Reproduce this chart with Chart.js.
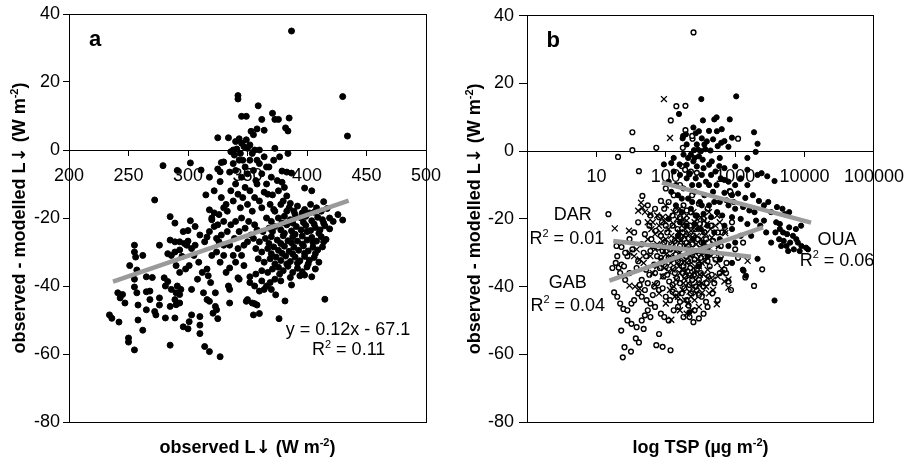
<!DOCTYPE html>
<html><head><meta charset="utf-8">
<script src="https://cdn.jsdelivr.net/npm/chart.js@4.4.0/dist/chart.umd.min.js"></script>
<style>
html,body{margin:0;padding:0;background:#fff;}
#wrap{position:relative;width:914px;height:464px;overflow:hidden;}
canvas{position:absolute;top:0;}
#ca{left:0;} #cb{left:457px;}
</style></head><body>
<div id="wrap"><canvas id="ca" width="457" height="464"></canvas><canvas id="cb" width="457" height="464"></canvas></div>
<script>
// ---------- DATA ----------
// Panel a: [observed L↓, observed - modelled L↓]
const panelA = [
[387,35],[430,15.7],[434,4.1],[342,16],[342,15],[359,13],[371,10.8],[345,9.9],[349,9.9],[362,9],[373,9],[376,9],[385,9.4],[325,3.6],[334,3.6],[343,3.3],[353,5.5],[355,4.5],[358,6.2],[364,5.8],[382,6.5],[384,5.6],[345,2],[347,1],[350,0.5],[352,1.5],[356,0],[360,0],[373,0.5],[338,0],[336,-0.5],[341,0.3],[344,-1],[384,-1],[349,3],[340,2.5],
[279,-4.6],[302,-3.8],[291,-6],[311,-5.9],[328,-3.7],[330,-3.5],[327,-6.4],[335,-6.5],[338,-4],[340,-6],[343,-3],[345,-8],[348,-5],[350,-7],[352,-3],[355,-6],[357,-9],[360,-4],[362,-7],[364,-2],[366,-10],[368,-5],[370,-8],[372,-3],[375,-9],[379,-9.5],[379,-6.2],[383,-6.5],[387,-6.8],[377,-2],[272,-14.7],[315,-13.2],[322,-12],[327,-9.3],[328,-14],[332,-16],[318,-17.6],[322,-18.5],[326,-19],[320,-20],[330,-17],[333,-18],[336,-12],[338,-15],[340,-10],[342,-13],[344,-17],[346,-14],[348,-11],[350,-16],[352,-12],[354,-18],[356,-14],[358,-10],[360,-15],[362,-17],[364,-12.4],[367,-13],[371,-13.2],[369,-16],[373,-18],[398,-11.2],[404,-12],[414,-15.2],[426,-19],[430,-20.6],[285,-19.6],[289,-21.5],[302,-20.8],[306,-22.5],[300,-23.7],[325,-5.6],[318,-8],[381,-11],[383,-13.5],[386,-15.7],[380,-15],[376,-12],[339,-1.5],[346,-3],[354,-1],[358,-3],[366,-5],
[255,-28],[255,-30],[256,-31.5],[262,-31],[251,-34],[257,-35.3],[283,-30.5],[286,-31],[289,-30],[295,-31.3],[290,-34],[293,-36],[298,-35],[301,-34],[305,-31],[309,-33],[312,-36],[316,-35],[320,-31],[317,-37],[319,-39],[285,-26.5],[289,-27],[293,-27],[297,-27.5],[300,-26.8],[306,-28],[314,-27],[318,-24],[322,-22.5],[320,-20.5],[325,-22],[328,-25],[330,-21],[333,-24],[335,-28],[336,-22],[339,-26],[335,-34.7],[342,-37.6],[352,-37.3],[255,-38],[255,-40.3],[265,-37.3],[270,-37.5],[280,-37.6],[283,-38.7],[281,-40],[286,-41],[290,-42],[291,-40],[293,-42.5],[294,-41],[303,-41],[308,-38],[313,-42],[323,-42],[334,-40],[335,-41],[343,-38],[324,-30],[327,-33],[330,-31],[332,-36],[338,-31],[340,-33],[342,-29],[345,-31],[347,-34],[330,-28],[326,-27],[310,-25],[303,-29],[296,-24],[276,-28],[293,-29.4],[299,-28],[316,-25.6],[324,-26],
[241,-42],[243,-43.5],[245,-42.5],[257,-42],[258,-45.6],[265,-41.7],[268,-41.5],[276,-43.5],[276,-45.6],[272,-47.5],[273,-48.5],[289,-44],[290,-45.5],[293,-45],[281,-49.4],[289,-49.4],[296,-52],[300,-52.6],[303,-48.5],[310,-49],[310,-51.5],[316,-44],[318,-44.5],[323,-46],[321,-48],[325,-49.6],[310,-54],[314,-57.8],[318,-59.3],[327,-60.8],[234,-48.5],[236,-49.5],[242,-50.6],[258,-50],[262,-53],[250,-55.3],[250,-56.5],[255,-58.8],[285,-57.4],[324,-47],[335,-45],[350,-44],[354,-45],[355,-48.5],[360,-48.1],[349,-44.5],[356,-45.2],[358,-45.6],[376.5,-49.6],[381.5,-44.4],[415,-43.9],[373.7,-42.6],[301,-50.5],[285,-46],[265,-47],[268,-44],[247,-45],
[385,-17],[392,-16.5],[398,-17.5],[403,-16],[408,-17],[412,-18],[417,-17.2],[402,-18.5],[378,-16],[372,-17.5],
[376,-20],[381,-19.5],[386,-20.5],[390,-19],[395,-20],[399,-19.5],[404,-20.8],[409,-19.8],[413,-20.5],[419,-20],[422,-21],[370,-21],[366,-20],
[368,-23],[373,-22.5],[378,-23.5],[383,-22],[387,-23.8],[391,-22.5],[395,-23.5],[399,-22.2],[403,-23.7],[407,-22.8],[411,-23.5],[415,-22.3],[419,-23.2],[363,-24],[358,-23.5],
[365,-26],[370,-25.5],[375,-26.5],[380,-25.2],[384,-26.7],[388,-25.5],[392,-26.8],[396,-25.3],[400,-26.5],[404,-25.7],[408,-26.8],[412,-25.5],[416,-26.3],[360,-27],[355,-26],
[367,-29],[372,-28.5],[376,-29.5],[381,-28.3],[385,-29.8],[389,-28.6],[393,-29.5],[397,-28.2],[401,-29.7],[405,-28.6],[409,-29.4],[413,-28.5],[362,-30],[357,-29],
[369,-32],[374,-31.5],[378,-32.5],[382,-31.2],[386,-32.8],[390,-31.5],[394,-32.6],[398,-31.3],[402,-32.4],[406,-31.6],[410,-33],[364,-33],[359,-32],
[371,-35],[376,-34.5],[380,-35.5],[384,-34.2],[388,-36],[392,-34.8],[396,-35.8],[400,-34.4],[404,-37.3],[367,-36],[362,-35.5],[357,-36.5],[407,-35],
[362,-38.5],[366,-40],[369,-39],[364,-41],[373,-38],[378,-38.5],[387,-39.7],[352,-39],[356,-40],[360,-41.5],[370,-41],
[345,-20],[348,-23],[351,-21],[353,-25],[350,-27],[347,-28],[356,-22],[343,-24],[340,-21],
[383,-18],[389,-18],[396,-18.5],[406,-18.3],[379,-21.5],[388,-21.5],[397,-21.3],[406,-21.8],[414,-21.5],[371,-24],[381,-24.5],[390,-24.8],[400,-24],[410,-24.5],[368,-27.5],[378,-27.5],[387,-27.3],[396,-27.7],[405,-27.2],[414,-27],[370,-30.5],[379,-30.4],[388,-30.6],[398,-30.4],[407,-30.5],[373,-33.5],[383,-33.5],[392,-33.3],[401,-33.5],[377,-36.5],[386,-37.5],[394,-37],[398,-36.8]
];
const trendA = [[237,-38.7],[435,-14.9]];

// Panel b: [TSP (µg m-2), observed - modelled L↓]
const OUA = [
[325,15.4],[1035,16.2],[155,11],[343,9.1],[500,9.4],[540,10],[835,9.4],[175,3.8],[195,5],[270,5.3],[300,5.9],[545,5.9],[640,6.5],[1870,5.6],[2100,2.2],[1975,-0.2],[630,2.5],[800,1.3],[330,3.8],[390,2.9],[178,4.5],[255,0.3],[290,0.5],[320,0],[370,0.6],[440,0.2],[230,-1],[260,-2],[300,-1.5],[340,-2.5],
[94,-3.9],[120,-3.5],[158,-3.9],[200,-4],[250,-3],[280,-4.5],[350,-5],[420,-4],[590,-4.4],[700,-5],[1000,-4.5],[1500,-5.5],[2100,-7],[2900,-7.4],[3690,-8.8],[130,-6],[160,-7],[220,-6.5],[270,-8],[330,-7],[380,-9],[450,-7],[520,-6],[620,-8],[800,-9],[1200,-8],[110,-9],[140,-10],[240,-10],[2400,-6.5],
[700,-12.3],[900,-13],[1100,-12.5],[1400,-13.8],[2200,-14.7],[2600,-16],[3000,-15],[4000,-16.5],[4800,-17],[5200,-18.6],[6000,-18],[600,-15],[800,-16],[1000,-17],[1300,-16.5],[1600,-17.5],[1900,-18],[120,-12],[150,-13],[180,-11],[210,-14],[260,-12],[310,-15],[360,-13],[420,-16],[480,-12],[550,-18],[140,-16],[170,-18],[230,-17],[280,-19],[350,-18.5],[450,-19.5],[650,-19],[900,-19.5],[1200,-20],[2000,-20.5],
[110,-20],[160,-21],[200,-22],[260,-21.5],[320,-23],[400,-22],[500,-24],[700,-22],[900,-23],[1500,-21.5],[2600,-20.5],[3900,-21],[4300,-26],[5000,-26.5],[5500,-28],[6200,-27],[7000,-29],[8000,-27],[9000,-28],[10500,-28.5],[11200,-29],[4600,-28],[6800,-25],[8500,-29.5],[3800,-24],[4400,-23],[5600,-24.5],[150,-25],[250,-26],[350,-27],[600,-26],[800,-28],[1000,-27],[1200,-25],[4400,-21.5],[6000,-22.5],[7500,-23],[8900,-22],
[2100,-31.8],[1290,-35],[1430,-36.8],[1320,-35.3],[3690,-44.1],[218,-47.6],[600,-32],[400,-31],[900,-33],[300,-34],
[200,2],[210,-2],[280,2],[360,2],[480,3.5],[560,1.5],[700,3],[250,7],[420,6],[900,4],[1500,-2],[600,-2],[460,-3],[180,-1],[130,-2],[200,-8],[300,-10],[420,-10],[540,-10],[700,-8.5],[1000,-10],[1500,-10],[170,-14],[240,-15],[330,-16],[500,-15],[750,-14.5],[950,-15],[1800,-13],[3300,-18],[2300,-22],[2800,-24],[1700,-25],[3300,-27],[5800,-29.5],[7600,-26],[4900,-24]
];
const DAR = [
[94,15.4],[115,3.9],[44,-15.2],[46,-16.7],[40,-17.6],[50,-18],[60,-18.5],[75,-19],[91,-19.4],[18.4,-22.8],[29.5,-23.5],[713,-23.5],[720,-24.2],[120,-49.8],[543,-45.2],[270,-42],[335,-41.8],[175,-41],[190,-44],[210,-45],[240,-47],[230,-43],[1510,-32.4],[800,-37.9],[800,-40.3],[640,-34.7],[330,-33],[400,-35],[475,-38],[380,-40],[420,-42],[30,-30],[35,-31],[42,-32],[48,-33],[38,-29],[30,-39.7],[36,-40],[42,-40.6],
[65,-21],[80,-22],[95,-20.5],[110,-23],[130,-21.5],[150,-24],[170,-22],[200,-20.5],[230,-23.5],[260,-21],[300,-22.5],[340,-24],[390,-21.5],[440,-23],[520,-22],[70,-24.5],[120,-25],[180,-25],[280,-25],[600,-21],
[55,-26],[75,-27.5],[90,-26.5],[105,-28.5],[125,-27],[145,-29],[165,-26.5],[190,-28],[215,-27],[245,-29.5],[275,-27.5],[310,-28.5],[360,-27],[420,-29],[500,-27.5],[580,-28],
[60,-31],[85,-32],[100,-30.5],[118,-33],[135,-31.5],[155,-34],[175,-31],[200,-33],[225,-31],[250,-34.5],[285,-32],[320,-30.5],[370,-32.5],[450,-31],[550,-33],
[65,-36],[90,-37],[110,-35.5],[140,-38],[160,-36],[185,-37.5],[210,-39],[240,-36.5],[270,-38],[300,-39.5],[350,-36.5],[560,-37],[700,-38.5],[130,-40],
[80,-42],[100,-45],[150,-43],[260,-44],[300,-46],[200,-48],[160,-47],
[100,-16],[130,-18],[160,-17],[200,-19],[250,-18],[320,-19.5],[420,-18],[550,-19],
[62,-23],[85,-24],[100,-26],[140,-26],[160,-24],[190,-23],[210,-25],[240,-25.5],[270,-23],[320,-26],[380,-24.5],[460,-25.5],
[70,-29],[95,-29.5],[115,-31],[130,-29],[160,-30],[185,-32.5],[210,-30],[235,-33],[265,-30],[300,-34],[340,-29],[400,-30],[500,-30],
[75,-34],[95,-34.5],[125,-35],[145,-33],[170,-35],[195,-35.5],[220,-37],[260,-36],[310,-36.5],[400,-37.5],[650,-36],
[70,-39.5],[115,-41],[135,-43],[180,-39],[220,-41.5],[250,-40],[330,-39],[480,-41],
[55,-21],[110,-19.5],[145,-20],[180,-20],[280,-20],[360,-20.5]
];
const GAB = [
[251,35.1],[142,13.3],[118,9.1],[33,5.6],[33,0.3],[73,1],[20.5,-1.7],[192,6.2],[243,3.7],[1100,3.7],[176,1],[192,13.4],[240,4.5],[41,-5.9],[46,-13.2],[85,-14.7],[14.9,-18.6],[170,-4.4],[190,-5.5],[218,-6.8],[835,-11.8],[870,-12.6],[2450,-34.9],[1870,-39.8],[1400,-37.3],[740,-36],[870,-41],[800,-38.5],[230,-6],[280,-6.4],[850,-12],
[24,-60.9],[25.4,-57.9],[31.5,-59.2],[73,-57.3],[90,-57.8],[117,-58.8],[22.8,-53],[37,-55.3],[41,-56.5],[80,-54],[18,-41.7],[20,-43],[22,-45],[24.5,-46.6],[19,-33],[21,-34.4],[23,-33.5],[25,-34],[19.5,-28],[23,-28.3],
[28,-47],[32,-45],[28,-50],[32,-51],[38,-52],[45,-50],[50,-48.5],[55,-47],[60,-49],[48,-52.5],[35,-44],[40,-42],[45,-43],[53,-44],[60,-45],[70,-46],[85,-48],[95,-49],[110,-50],[130,-47],[150,-46],[180,-49],[213,-45.6],[260,-47],[300,-49.4],[350,-48],[400,-46],[220,-49],[250,-50.5],
[55,-16],[70,-17],[110,-15],[140,-17.5],[180,-16],[230,-18],[300,-15.5],[400,-17],
[40,-21],[58,-22],[72,-23.5],[88,-21],[105,-24],[125,-22],[148,-23],[170,-21],[195,-24.5],[225,-22],[265,-23],[310,-21.5],[360,-24],[450,-22],[650,-24],[900,-21],
[30,-26],[45,-27.5],[62,-26],[78,-28.5],[95,-27],[115,-29],[135,-26.5],[160,-28],[185,-26],[210,-29],[240,-27.5],[280,-29.5],[330,-27],[390,-28.5],[480,-26.5],[620,-28],[1000,-29],[1300,-27],
[28,-31],[40,-32.5],[52,-31],[68,-33.5],[85,-31.5],[100,-34],[120,-32],[140,-30.5],[165,-33],[195,-31],[225,-34.5],[260,-32],[300,-33.5],[360,-31],[430,-34],[520,-32],[750,-33],[1100,-31.5],
[30,-36],[45,-38],[58,-36.5],[75,-39],[92,-37],[112,-38.5],[135,-36],[160,-39],[190,-37],[220,-39.5],[255,-36.5],[300,-38],[350,-40],[420,-37],[500,-39],[600,-36],
[50,-41],[65,-42.5],[80,-41],[100,-43],[125,-41.5],[170,-42],[200,-44],[280,-41],[330,-43],[470,-42],[560,-44],
[35,-24],[50,-24.5],[65,-28],[85,-25],[100,-22],[120,-27.5],[150,-26],[175,-24],[200,-27],[250,-25],[290,-26],[380,-26],[560,-24],
[33,-29],[48,-30],[60,-29.5],[75,-31],[90,-29.5],[110,-31.5],[130,-34.5],[150,-32.5],[180,-34],[210,-32.5],[240,-30.5],[280,-35],[320,-31.5],[400,-32.5],[620,-31],
[38,-34.5],[52,-35],[70,-36],[82,-34.5],[105,-36.5],[125,-39.5],[145,-37.5],[175,-36],[205,-35.5],[240,-38],[270,-40],[320,-36],[390,-39],[460,-36.5],[700,-35],
[42,-39.5],[55,-39],[68,-40],[90,-40.5],[115,-44],[140,-42],[160,-44.5],[185,-40.5],[230,-42],[300,-42.5],[380,-44.5],
[26,-38],[22,-36],[17,-34.5],[20,-31],[26,-30],
[60,-19],[80,-19.5],[95,-17],[125,-19],[160,-19.5],[200,-17.5],[270,-19],[350,-20],[130,-13],[100,-11],[240,-13],[160,-10]
];
const trendOUA = [[88,-9.3],[12400,-21.1]];
const trendDAR = [[17.5,-26.5],[1690,-31.2]];
const trendGAB = [[15.4,-38.2],[2520,-22.5]];
const tspTicks = [1,10,100,1000,10000,100000];

// ---------- DRAWING ----------
const FAM = "'Liberation Sans', Arial, Helvetica, sans-serif";
const ARROWFAM = "'DejaVu Sans', sans-serif";
Chart.defaults.font.family = FAM;
Chart.defaults.color = '#000';
const toXY = arr => arr.map(p => ({x:p[0], y:p[1]}));

function parseRich(s){
  const raw=[]; const re=/\^\{([^}]*)\}/g; let last=0, m;
  while((m=re.exec(s))){ if(m.index>last) raw.push({t:s.slice(last,m.index)}); raw.push({t:m[1],sup:true}); last=re.lastIndex; }
  if(last<s.length) raw.push({t:s.slice(last)});
  const parts=[];
  raw.forEach(p=>{
    if(!p.sup && p.t.indexOf('\u2193')>=0){
      p.t.split(/(\u2193)/).forEach(q=>{ if(q==='') return; parts.push(q==='\u2193'?{t:q,arrow:true}:{t:q}); });
    } else parts.push(p);
  });
  return parts;
}
function fontFor(p,size,bold){
  if(p.arrow) return (bold?'bold ':'')+Math.round(size*1.0)+'px '+ARROWFAM;
  const s=p.sup?Math.round(size*0.62):size; return (bold?'bold ':'')+s+'px '+FAM;
}
function drawRich(ctx, str, x, y, size, bold){
  const parts=parseRich(str); let w=0;
  parts.forEach(p=>{ctx.font=fontFor(p,size,bold); w+=ctx.measureText(p.t).width;});
  let cx=x-w/2; const base=y+size*0.36;
  ctx.textAlign='left'; ctx.textBaseline='alphabetic';
  parts.forEach(p=>{ctx.font=fontFor(p,size,bold); ctx.fillText(p.t,cx,p.sup?base-size*0.42:base); cx+=ctx.measureText(p.t).width;});
}
function annot(cfg){
  return {id:'annot', afterDraw(chart){
    const ctx=chart.ctx, ca=chart.chartArea, xs=chart.scales.x, ys=chart.scales.y;
    ctx.save();
    ctx.fillStyle='#000';
    cfg.labels.forEach(l=>drawRich(ctx,l.text,xs.getPixelForValue(l.x),ys.getPixelForValue(l.y),l.size||18,!!l.bold));
    drawRich(ctx,cfg.xTitle,(ca.left+ca.right)/2,ca.bottom+25,18,true);
    ctx.translate(cfg.yTitleX,(ca.top+ca.bottom)/2); ctx.rotate(-Math.PI/2);
    drawRich(ctx,cfg.yTitle,0,0,18,true);
    ctx.restore();
  }};
}
const yTitle='observed - modelled L\u2193 (W m^{-2})';
function yScale(width,tl,pad){
  return {min:-80,max:40,ticks:{stepSize:20,font:{size:18},color:'#000',padding:pad},
    grid:{drawOnChartArea:false,drawTicks:true,tickLength:tl,color:'#000'},
    border:{display:true,color:'#000',width:1}, afterFit(s){s.width=width;}};
}
// frame edges: axes with a border and nothing else
function frameScale(type,pos,min,max){
  return {type:type,position:pos,min:min,max:max,display:true,
    ticks:{display:false}, grid:{display:false,drawTicks:false,drawOnChartArea:false},
    border:{display:true,color:'#000',width:1}};
}
const common = {responsive:false, animation:false, events:[],
  plugins:{legend:{display:false},tooltip:{enabled:false}}};

new Chart(document.getElementById('ca'), {
  type:'scatter',
  data:{datasets:[
    {data:toXY(trendA),showLine:true,borderColor:'#9a9a9a',borderWidth:4.5,pointRadius:0,borderCapStyle:'butt',xAxisID:'x',yAxisID:'y'},
    {data:toXY(panelA),pointRadius:3,pointBackgroundColor:'#000',pointBorderColor:'#000',pointBorderWidth:1,xAxisID:'x',yAxisID:'y'}
  ]},
  options:Object.assign({}, common, {
    layout:{padding:{left:0,right:31,top:14,bottom:42}},
    scales:{
      x:{type:'linear',position:{y:0},min:200,max:500,
        ticks:{stepSize:50,font:{size:18},color:'#000',padding:10,maxRotation:0,autoSkip:false},
        grid:{drawOnChartArea:false,drawTicks:true,tickLength:5,color:'#000'},
        border:{display:true,color:'#000',width:1}},
      y:yScale(69,6,3),
      xTop:frameScale('linear','top',200,500),
      xBot:frameScale('linear','bottom',200,500),
      yRight:frameScale('linear','right',-80,40)
    }
  }),
  plugins:[annot({yTitleX:19, xTitle:'observed L\u2193 (W m^{-2})', yTitle:yTitle, labels:[
    {text:'a',x:222,y:33,bold:true,size:22},
    {text:'y = 0.12x - 67.1',x:434.5,y:-52.4},
    {text:'R^{2} = 0.11',x:435,y:-58.5}
  ]})]
});

new Chart(document.getElementById('cb'), {
  type:'scatter',
  data:{datasets:[
    {data:toXY(trendOUA),showLine:true,borderColor:'#9a9a9a',borderWidth:4.5,pointRadius:0,borderCapStyle:'butt',xAxisID:'x',yAxisID:'y'},
    {data:toXY(trendDAR),showLine:true,borderColor:'#9a9a9a',borderWidth:4.5,pointRadius:0,borderCapStyle:'butt',xAxisID:'x',yAxisID:'y'},
    {data:toXY(trendGAB),showLine:true,borderColor:'#9a9a9a',borderWidth:4.5,pointRadius:0,borderCapStyle:'butt',xAxisID:'x',yAxisID:'y'},
    {label:'OUA',data:toXY(OUA),pointRadius:2.6,pointBackgroundColor:'#000',pointBorderColor:'#000',pointBorderWidth:1,xAxisID:'x',yAxisID:'y'},
    {label:'DAR',data:toXY(DAR),pointStyle:'crossRot',pointRadius:4.2,pointBorderColor:'#000',pointBorderWidth:1.3,xAxisID:'x',yAxisID:'y'},
    {label:'GAB',data:toXY(GAB),pointRadius:2.4,pointBackgroundColor:'#fff',pointBorderColor:'#000',pointBorderWidth:1.4,xAxisID:'x',yAxisID:'y'}
  ]},
  options:Object.assign({}, common, {
    layout:{padding:{left:0,right:30,top:14,bottom:42}},
    scales:{
      x:{type:'logarithmic',position:{y:0},min:1,max:100000,
        afterBuildTicks(s){ s.ticks = tspTicks.map(v=>({value:v})); },
        ticks:{font:{size:18},color:'#000',padding:10,maxRotation:0,autoSkip:false,
          callback:(v)=> v===1 ? '' : String(v)},
        grid:{drawOnChartArea:false,drawTicks:true,tickLength:5,color:'#000'},
        border:{display:true,color:'#000',width:1}},
      y:yScale(70,8,5),
      xTop:frameScale('linear','top',0,1),
      xBot:frameScale('linear','bottom',0,1),
      yRight:frameScale('linear','right',-80,40)
    }
  }),
  plugins:[annot({yTitleX:17, xTitle:'log TSP (\u00b5g m^{-2})', yTitle:yTitle, labels:[
    {text:'b',x:2.39,y:33,bold:true,size:22},
    {text:'DAR',x:4.55,y:-18.5},
    {text:'R^{2} = 0.01',x:3.75,y:-25.6},
    {text:'GAB',x:3.87,y:-38.5},
    {text:'R^{2} = 0.04',x:3.87,y:-45.2},
    {text:'OUA',x:29300,y:-25.9},
    {text:'R^{2} = 0.06',x:29300,y:-32}
  ]})]
});
</script>
</body></html>
